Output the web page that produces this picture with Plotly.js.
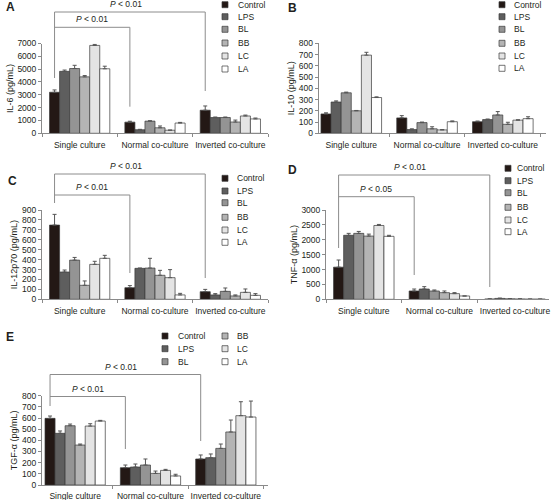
<!DOCTYPE html>
<html><head><meta charset="utf-8">
<script src="https://cdn.plot.ly/plotly-3.0.1.min.js"></script>
<style>html,body{margin:0;padding:0;background:#fff}#chart{width:551px;height:500px}</style>
</head><body><div id="chart"></div>
<script>
// ---------- data ----------
const categories = ['Single culture', 'Normal co-culture', 'Inverted co-culture'];
const groups = ['Control', 'LPS', 'BL', 'BB', 'LC', 'LA'];
const groupColors = ['#231815', '#5e5e5e', '#949494', '#b4b4b4', '#e4e4e4', '#ffffff'];

// each row = one culture (Single, Normal, Inverted); columns follow `groups`
const il6Mean = [[3200, 4830, 5050, 4400, 6850, 5030], [870, 280, 950, 430, 240, 800], [1800, 1230, 1230, 880, 1350, 1120]];
const il6Err  = [[180, 100, 250, 100, 80, 200], [70, 30, 30, 140, 10, 50], [330, 40, 40, 150, 70, 70]];

const il10Mean = [[172, 278, 360, 200, 695, 318], [137, 33, 95, 40, 30, 103], [103, 122, 163, 80, 117, 130]];
const il10Err  = [[10, 10, 6, 3, 25, 6], [20, 7, 5, 18, 3, 7], [6, 5, 30, 18, 3, 17]];

const il12Mean = [[748, 275, 395, 141, 352, 413], [117, 312, 315, 242, 218, 44], [77, 44, 80, 34, 70, 40]];
const il12Err  = [[108, 20, 27, 44, 31, 30], [21, 3, 98, 50, 81, 16], [23, 13, 34, 10, 34, 17]];

const tnfMean = [[1080, 2150, 2215, 2125, 2480, 2115], [280, 345, 280, 224, 190, 112], [10, 30, 15, 10, 5, 5]];
const tnfErr  = [[240, 65, 65, 65, 35, 35], [65, 80, 33, 56, 34, 0], [5, 10, 5, 5, 3, 3]];

const tgfMean = [[597, 463, 531, 358, 528, 573], [155, 161, 179, 104, 131, 81], [233, 245, 328, 475, 621, 609]];
const tgfErr  = [[21, 21, 15, 9, 21, 6], [24, 27, 54, 21, 9, 15], [36, 33, 39, 107, 125, 143]];

const yTitles = ['IL-6 (pg/mL)', 'IL-10 (pg/mL)', 'IL-12p70 (pg/mL)', 'TNF-α (pg/mL)', 'TGF-α (pg/mL)'];
const panelLabels = ['A', 'B', 'C', 'D', 'E'];
const yRanges = [[0, 7000], [0, 800], [0, 900], [0, 3000], [0, 800]];
const yDticks = [1000, 100, 100, 500, 100];
const pValues = [['0.01', '0.01'], ['', ''], ['0.01', '0.01'], ['0.05', '0.01'], ['0.01', '0.01']];

// ---------- layout geometry (pixels) ----------
const W = 551, H = 500;
const X = p => p / W, Y = p => 1 - p / H;
const TXT = '#231f20', AX = '#8a8a8a';

const panels = [
  {mean: il6Mean, err: il6Err, xd: [42, 268], yd: [43.5, 133.3], xr: [-0.5, 2.5],
   lab: [4, 7], leg: {cols: [[222, 236, [4.7, 16.7, 29.3, 43, 56, 69]]]},
   br: {left: 78, outY: 12, outBot: 91, inY: 27.3, inBot: 106.7}},
  {mean: il10Mean, err: il10Err, xd: [318.7, 546], yd: [43.3, 133.3], xr: [-0.43, 2.57],
   lab: [286, 8], leg: {cols: [[499, 512, [4.7, 16.7, 29.3, 43.3, 56, 68.3]]]}, br: null},
  {mean: il12Mean, err: il12Err, xd: [42, 268], yd: [210, 299.3], xr: [-0.5, 2.5],
   lab: [6, 181], leg: {cols: [[222, 235, [178.3, 191, 202.7, 217.3, 230, 242.3]]]},
   br: {left: 203, outY: 174, outBot: 278, inY: 195, inBot: 273}},
  {mean: tnfMean, err: tnfErr, xd: [326, 549], yd: [210, 299.3], xr: [-0.5, 2.45],
   lab: [286, 170], leg: {cols: [[505, 515, [168.3, 180.7, 192.7, 207.3, 220, 231.7]]]},
   br: {left: 248, outY: 175, outBot: 287, inY: 196.7, inBot: 275}},
  {mean: tgfMean, err: tgfErr, xd: [42, 268], yd: [395.7, 485], xr: [-0.44, 2.56],
   lab: [4, 337], leg: {cols: [[162, 176, [336, 348.7, 361.7]], [222, 235, [336, 348.7, 361.7]]]},
   br: {left: 406, outY: 374.5, outBot: 441, inY: 396.5, inBot: 449}}
];

const bargap = 0.2;
const traces = [], shapes = [], annotations = [];
const layout = {
  width: W, height: H, margin: {l: 0, r: 0, t: 0, b: 0},
  paper_bgcolor: '#fff', plot_bgcolor: 'rgba(0,0,0,0)',
  showlegend: false, barmode: 'group', bargap: bargap, bargroupgap: 0,
  font: {family: 'Liberation Sans, Arial, sans-serif', size: 8.5, color: TXT},
  shapes: shapes, annotations: annotations
};

panels.forEach((p, i) => {
  const s = i === 0 ? '' : String(i + 1);
  groups.forEach((g, gi) => {
    traces.push({
      type: 'bar', name: g, x: categories,
      y: p.mean.map(row => row[gi]),
      xaxis: 'x' + s, yaxis: 'y' + s,
      marker: {color: groupColors[gi], line: {color: '#3a3a3a', width: 0.7}},
      error_y: {type: 'data', symmetric: false, array: p.err.map(row => row[gi]),
                arrayminus: p.err.map(() => 0), color: '#555', thickness: 1, width: 2},
      hoverinfo: 'x+y+name'
    });
  });
  layout['xaxis' + s] = {
    domain: [X(p.xd[0]), X(p.xd[1])], anchor: 'y' + s, type: 'category',
    categoryarray: categories, range: p.xr, showline: true, linecolor: AX, linewidth: 1,
    ticks: 'outside', tickson: 'boundaries', ticklen: 3, tickcolor: AX, tickangle: 0,
    ticklabelstandoff: 3,
    showgrid: false, zeroline: false, tickfont: {size: 8.5, color: TXT}, fixedrange: true
  };
  layout['yaxis' + s] = {
    domain: [Y(p.yd[1]), Y(p.yd[0])], anchor: 'x' + s, range: yRanges[i], dtick: yDticks[i],
    showline: true, linecolor: AX, linewidth: 1, ticks: 'outside', ticklen: 3, tickcolor: AX,
    showgrid: false, zeroline: false, tickfont: {size: 8.5, color: TXT}, fixedrange: true,
    title: {text: yTitles[i], font: {size: 9, color: TXT}, standoff: 2}
  };
  // panel label
  annotations.push({xref: 'paper', yref: 'paper', x: X(p.lab[0]), y: Y(p.lab[1]),
    xanchor: 'left', yanchor: 'middle', showarrow: false, text: '<b>' + panelLabels[i] + '</b>',
    font: {size: 12, color: TXT, family: 'Liberation Sans, Arial, sans-serif'}});
  // manual legend
  let k = 0;
  p.leg.cols.forEach(col => {
    const [sx, tx, rows] = col;
    rows.forEach(ry => {
      const gi = k++;
      shapes.push({type: 'rect', xref: 'paper', yref: 'paper',
        x0: X(sx), x1: X(sx + 6), y0: Y(ry + 3), y1: Y(ry - 3),
        fillcolor: groupColors[gi], line: {color: '#3a3a3a', width: 0.7}});
      annotations.push({xref: 'paper', yref: 'paper', x: X(tx), y: Y(ry),
        xanchor: 'left', yanchor: 'middle', showarrow: false, text: groups[gi],
        font: {size: 8.5, color: TXT}});
    });
  });
  // significance brackets
  if (p.br) {
    const per = (p.xd[1] - p.xd[0]) / (p.xr[1] - p.xr[0]);
    const ctrlOff = -(1 - bargap) / 2 + (1 - bargap) / groups.length / 2;
    const cx = c => p.xd[0] + (c + ctrlOff - p.xr[0]) * per;
    const b = p.br;
    const line = (x0, y0, x1, y1) => shapes.push({type: 'line', xref: 'paper', yref: 'paper',
      x0: X(x0), y0: Y(y0), x1: X(x1), y1: Y(y1), line: {color: '#8c8c8c', width: 1}});
    line(cx(0), b.outY, cx(0), b.left);
    line(cx(0), b.outY, cx(2), b.outY);
    line(cx(2), b.outY, cx(2), b.outBot);
    line(cx(0), b.inY, cx(1), b.inY);
    line(cx(1), b.inY, cx(1), b.inBot);
    annotations.push({xref: 'paper', yref: 'paper', x: X((cx(0) + cx(2)) / 2 - 4), y: Y(b.outY - 1),
      xanchor: 'center', yanchor: 'bottom', showarrow: false,
      text: '<i>P</i> &lt; ' + pValues[i][1], font: {size: 8.5, color: TXT}});
    annotations.push({xref: 'paper', yref: 'paper', x: X((cx(0) + cx(1)) / 2), y: Y(b.inY - 1),
      xanchor: 'center', yanchor: 'bottom', showarrow: false,
      text: '<i>P</i> &lt; ' + pValues[i][0], font: {size: 8.5, color: TXT}});
  }
});

Plotly.newPlot('chart', traces, layout, {staticPlot: true, displayModeBar: false});
</script>
</body></html>
